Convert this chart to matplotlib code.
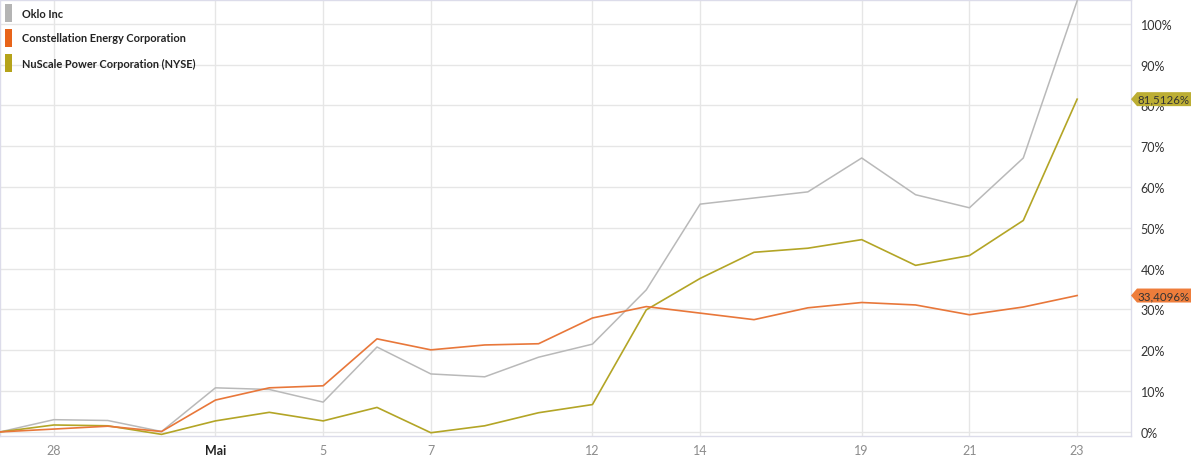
import matplotlib
matplotlib.use("Agg")
import matplotlib.pyplot as plt
from matplotlib.patches import Rectangle, Polygon
from matplotlib.transforms import blended_transform_factory

plt.rcParams['font.family'] = ['Lato', 'DejaVu Sans']

dates = ['25.04', '28.04', '29.04', '30.04', '01.05', '02.05', '05.05', '06.05', '07.05',
         '08.05', '09.05', '12.05', '13.05', '14.05', '15.05', '16.05', '19.05', '20.05',
         '21.05', '22.05', '23.05']
oklo = [0, 3.0, 2.8, 0.1, 10.8, 10.4, 7.3, 20.8, 14.2, 13.5, 18.3, 21.5, 34.8, 55.8,
        57.3, 58.8, 67.1, 58.1, 54.9, 67.1, 105.6]
ceg = [0, 0.7, 1.4, 0.1, 7.8, 10.8, 11.3, 22.8, 20.1, 21.3, 21.6, 27.9, 30.7, 29.1,
       27.5, 30.4, 31.7, 31.1, 28.7, 30.6, 33.4096]
smr = [0, 1.7, 1.5, -0.6, 2.7, 4.8, 2.7, 6.0, -0.2, 1.5, 4.7, 6.7, 29.9, 37.6,
       44.0, 45.0, 47.1, 40.8, 43.2, 51.8, 81.5126]
series_names = ['Oklo Inc', 'Constellation Energy Corporation', 'NuScale Power Corporation (NYSE)']
tick_idx = [1, 4, 6, 8, 11, 13, 16, 18, 20]
tick_labels = ['28', 'Mai', '5', '7', '12', '14', '19', '21', '23']
y_ticks = [0, 10, 20, 30, 40, 50, 60, 70, 80, 90, 100]

line_colors = ['#b9b9b9', '#e8773a', '#b3a526']
legend_colors = ['#b4b4b4', '#e8641a', '#b5a31a']
tag_colors = {'ceg': '#ee7d3b', 'smr': '#bcae34'}

W, H = 1200, 460
fig = plt.figure(figsize=(12, 4.6), dpi=100)
ax = fig.add_axes([0.0, 1 - 437 / H, 1131 / W, 436 / H])

x = list(range(len(dates)))
ax.plot(x, oklo, color=line_colors[0], lw=1.1, zorder=3)
ax.plot(x, smr, color=line_colors[2], lw=1.2, zorder=4)
ax.plot(x, ceg, color=line_colors[1], lw=1.2, zorder=5)

ax.set_xlim(0, 21)
ax.set_ylim(-1, 105.8)

ax.set_xticks(tick_idx)
ax.set_xticklabels(tick_labels)
ax.set_yticks(y_ticks)
ax.set_yticklabels([f'{v}%' for v in y_ticks])
ax.yaxis.tick_right()
ax.tick_params(axis='y', length=0, pad=7, labelsize=9, labelcolor='#333333')
ax.tick_params(axis='x', length=0, pad=6, labelsize=9, labelcolor='#8c8c8c')
for lab in ax.get_xticklabels():
    if lab.get_text() == 'Mai':
        lab.set_fontweight('bold')
        lab.set_color('#222222')

ax.grid(True, color='#e6e6e6', lw=1.0, zorder=0)
ax.set_axisbelow(True)
for s in ax.spines.values():
    s.set_color('#dcdcea')
    s.set_linewidth(1.0)

# value tags on the right
tr = blended_transform_factory(fig.transFigure, ax.transData)
for val, col in [(smr[-1], tag_colors['smr']), (ceg[-1], tag_colors['ceg'])]:
    h = 7 / 4.085
    tip = 1131 / W
    bl = 1137 / W
    br = 1191 / W
    poly = Polygon([(tip, val), (bl, val + h), (br, val + h), (br, val - h), (bl, val - h)],
                   closed=True, transform=tr, facecolor=col, edgecolor='none',
                   clip_on=False, zorder=10)
    fig.add_artist(poly)
    fig.text(1164 / W, val, f'{val:.4f}%'.replace('.', ','), transform=tr,
             ha='center', va='center', fontsize=8.3, color='#333333', zorder=11)

# legend
rows_y = [14, 39, 64]
for name, col, yc in zip(series_names, legend_colors, rows_y):
    fig.add_artist(Rectangle((5 / W, 1 - (yc + 9) / H), 7 / W, 18 / H,
                             transform=fig.transFigure, facecolor=col, edgecolor='none'))
    fig.text(22 / W, 1 - yc / H, name, fontsize=7.9, fontweight='bold',
             color='#222222', ha='left', va='center')

fig.savefig('out.png', dpi=100, facecolor='white')
